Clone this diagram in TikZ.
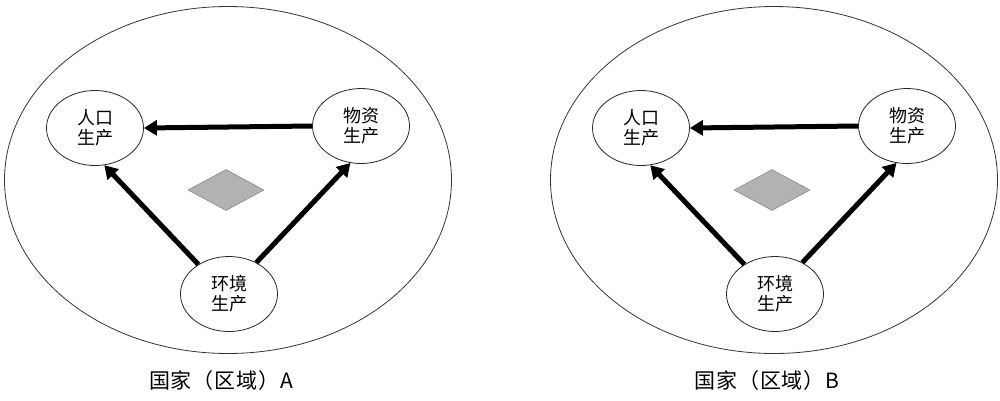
\documentclass[tikz,border=0pt]{standalone}
\usepackage{fontspec}
\newfontfamily\cjk{Noto Sans CJK SC}
\usetikzlibrary{shapes.geometric, arrows.meta}

\begin{document}
\begin{tikzpicture}[x=1pt, y=-1pt, every node/.style={font=\cjk\fontsize{18}{20}\selectfont},
  region/.style={draw=black!80, ellipse, line width=0.8pt, minimum width=447pt, minimum height=347pt, inner sep=0pt},
  prod/.style={draw=black!85, ellipse, line width=0.8pt, minimum width=97pt, minimum height=75pt, inner sep=0pt, align=center},
  mark box/.style={draw=black!55, fill=black!30, diamond, aspect=1.9, minimum width=76pt, minimum height=41pt, inner sep=0pt},
  flow/.style={line width=5pt, -{Triangle[length=13pt, width=15pt]}}]
  \useasboundingbox (0,0) rectangle (1000,400);
  \foreach \p/\dx/\lab in {a/0/A, b/546/B} {
    \begin{scope}[xshift=\dx]
      \node[region] (region\p) at (228,180) {};
      \node[prod] (renkou\p) at (95,128) {人口\\生产};
      \node[prod] (wuzi\p) at (361,126) {物资\\生产};
      \node[prod] (huanjing\p) at (229,294) {环境\\生产};
      \node[mark box] (mark\p) at (226,190) {};
      \draw[flow] (wuzi\p.west) -- (renkou\p.east);
      \draw[flow] (huanjing\p.136) -- (renkou\p.-76);
      \draw[flow] (huanjing\p.49) -- (wuzi\p.-106);
      \node[font=\cjk\fontsize{21}{24}\selectfont\addfontfeature{LetterSpace=4}] (label\p) at (221,381) {国家（区域）\lab};
    \end{scope}
  }
\end{tikzpicture}
\end{document}
